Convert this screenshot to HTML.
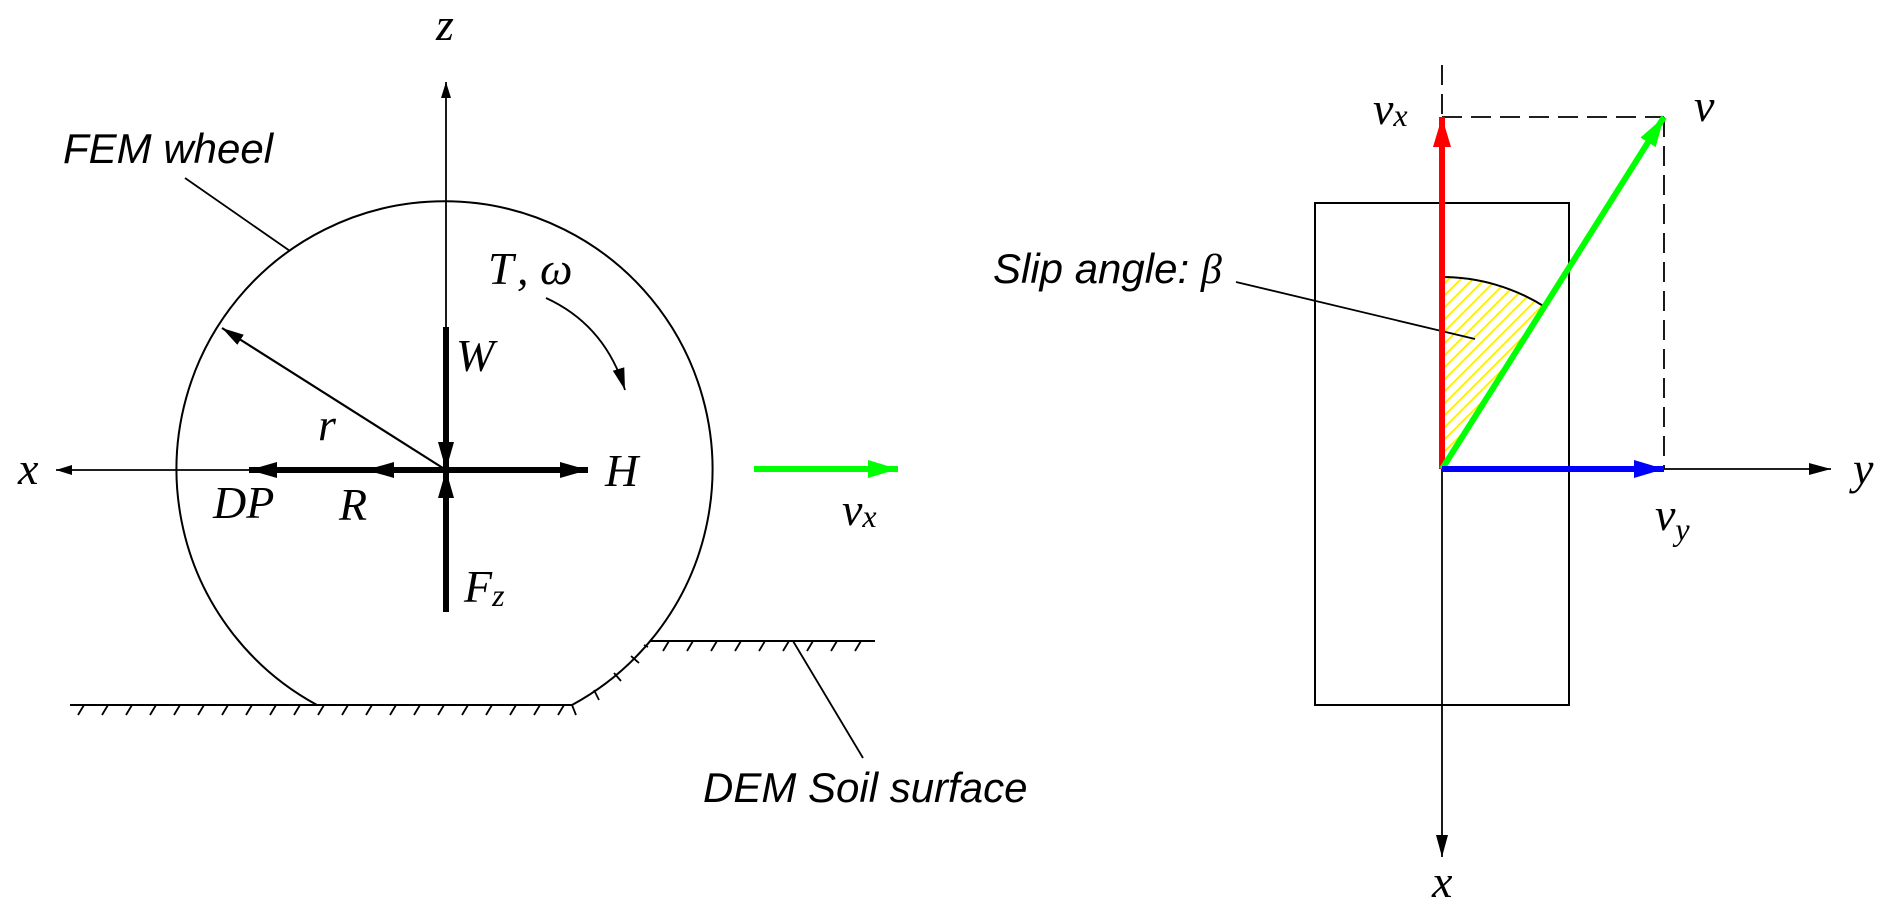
<!DOCTYPE html>
<html><head><meta charset="utf-8"><style>
html,body{margin:0;padding:0;background:#fff;}
svg{display:block;}
.m{font-family:"Liberation Serif",serif;font-style:italic;font-size:46px;fill:#000;}
.s{font-family:"Liberation Sans",sans-serif;font-style:italic;font-size:42px;fill:#000;}
</style></head><body>
<svg width="1892" height="914" viewBox="0 0 1892 914" xmlns="http://www.w3.org/2000/svg">
<defs>
<marker id="a" markerWidth="16" markerHeight="10" refX="16" refY="5" orient="auto" markerUnits="userSpaceOnUse" viewBox="0 0 16 10"><path d="M0,0L16,5L0,10z" fill="#000"/></marker>
<marker id="ab" markerWidth="22" markerHeight="12" refX="22" refY="6" orient="auto" markerUnits="userSpaceOnUse" viewBox="0 0 22 12"><path d="M0,0L22,6L0,12z" fill="#000"/></marker>
<marker id="ak" markerWidth="28" markerHeight="16" refX="28" refY="8" orient="auto" markerUnits="userSpaceOnUse" viewBox="0 0 28 16"><path d="M0,0L28,8L0,16z" fill="#000"/></marker>
<marker id="ag" markerWidth="30" markerHeight="18" refX="30" refY="9" orient="auto" markerUnits="userSpaceOnUse" viewBox="0 0 30 18"><path d="M0,0L30,9L0,18z" fill="#00ff00"/></marker>
<marker id="ar" markerWidth="30" markerHeight="18" refX="30" refY="9" orient="auto" markerUnits="userSpaceOnUse" viewBox="0 0 30 18"><path d="M0,0L30,9L0,18z" fill="#ff0000"/></marker>
<marker id="abl" markerWidth="30" markerHeight="18" refX="30" refY="9" orient="auto" markerUnits="userSpaceOnUse" viewBox="0 0 30 18"><path d="M0,0L30,9L0,18z" fill="#0000ff"/></marker>
<pattern id="h" width="12" height="12" patternUnits="userSpaceOnUse"><path d="M-3,15L15,-3M-3,3L3,-3M9,15L15,9" stroke="#ffee00" stroke-width="1.8"/></pattern>
</defs>
<path d="M317,705A268,268 0 1 1 572,705" fill="none" stroke="#000" stroke-width="2"/>
<line x1="70" y1="705" x2="572" y2="705" stroke="#000" stroke-width="2"/>
<line x1="650" y1="641" x2="875" y2="641" stroke="#000" stroke-width="2"/>
<g stroke="#000" stroke-width="1.8">
<path d="M84,705l-6,10M108,705l-6,10M132,705l-6,10M156,705l-6,10M180,705l-6,10M204,705l-6,10M228,705l-6,10M252,705l-6,10M276,705l-6,10M300,705l-6,10M324,705l-6,10M348,705l-6,10M372,705l-6,10M396,705l-6,10M420,705l-6,10M444,705l-6,10M468,705l-6,10M492,705l-6,10M516,705l-6,10M540,705l-6,10M564,705l-6,10"/>
<path d="M669,641l-6,10M693,641l-6,10M717,641l-6,10M741,641l-6,10M765,641l-6,10M789,641l-6,10M813,641l-6,10M837,641l-6,10M861,641l-6,10"/>
<path d="M572,705l4,10M594,690l5,10M614,673l7,8M631,656l8,7M648,647l-4,-2"/>
</g>
<line x1="185" y1="178" x2="290" y2="251" stroke="#000" stroke-width="1.8"/>
<line x1="863" y1="758" x2="793" y2="641" stroke="#000" stroke-width="1.8"/>
<line x1="446" y1="470" x2="446" y2="82" stroke="#000" stroke-width="1.8" marker-end="url(#a)"/>
<line x1="446" y1="470" x2="56" y2="470" stroke="#000" stroke-width="1.8" marker-end="url(#a)"/>
<line x1="446" y1="470" x2="222" y2="328" stroke="#000" stroke-width="2.2" marker-end="url(#ab)"/>
<line x1="446" y1="470" x2="249" y2="470" stroke="#000" stroke-width="6" marker-end="url(#ak)"/>
<line x1="446" y1="470" x2="366" y2="470" stroke="#000" stroke-width="6" marker-end="url(#ak)"/>
<line x1="446" y1="470" x2="588" y2="470" stroke="#000" stroke-width="6" marker-end="url(#ak)"/>
<line x1="446" y1="327" x2="446" y2="470" stroke="#000" stroke-width="6" marker-end="url(#ak)"/>
<line x1="446" y1="612" x2="446" y2="470" stroke="#000" stroke-width="6" marker-end="url(#ak)"/>
<path d="M546,298Q605,325 625,390" fill="none" stroke="#000" stroke-width="1.8" marker-end="url(#ab)"/>
<line x1="754" y1="469" x2="898" y2="469" stroke="#00ff00" stroke-width="6" marker-end="url(#ag)"/>
<text class="s" x="63" y="163">FEM wheel</text>
<text class="s" x="703" y="802">DEM Soil surface</text>
<text class="m" x="436" y="40">z</text>
<text class="m" x="18" y="484">x</text>
<text class="m" x="488" y="284">T</text>
<text class="m" x="517" y="284">, ω</text>
<text class="m" x="456" y="371">W</text>
<text class="m" x="318" y="440">r</text>
<text class="m" x="213" y="518">DP</text>
<text class="m" x="339" y="520">R</text>
<text class="m" x="605" y="486">H</text>
<text class="m" x="464" y="602">F<tspan font-size="32" dy="4">z</tspan></text>
<text class="m" x="842" y="525">v<tspan font-size="32" dy="2">x</tspan></text>
<rect x="1315" y="203" width="254" height="502" fill="none" stroke="#000" stroke-width="2"/>
<path d="M1442,469L1442,277A192,192 0 0 1 1545,307Z" fill="url(#h)" stroke="none"/>
<path d="M1442,277A192,192 0 0 1 1545,307" fill="none" stroke="#000" stroke-width="2"/>
<line x1="1442" y1="65" x2="1442" y2="117" stroke="#000" stroke-width="1.8" stroke-dasharray="20,9"/>
<line x1="1442" y1="117" x2="1664" y2="117" stroke="#000" stroke-width="1.8" stroke-dasharray="20,9"/>
<line x1="1664" y1="117" x2="1664" y2="469" stroke="#000" stroke-width="1.8" stroke-dasharray="20,9"/>
<line x1="1442" y1="469" x2="1442" y2="857" stroke="#000" stroke-width="1.8" marker-end="url(#ab)"/>
<line x1="1664" y1="469" x2="1831" y2="469" stroke="#000" stroke-width="1.8" marker-end="url(#ab)"/>
<line x1="1475" y1="339" x2="1236" y2="282" stroke="#000" stroke-width="1.8"/>
<line x1="1442" y1="469" x2="1442" y2="117" stroke="#ff0000" stroke-width="6" marker-end="url(#ar)"/>
<line x1="1442" y1="469" x2="1664" y2="117" stroke="#00ff00" stroke-width="6" marker-end="url(#ag)"/>
<line x1="1442" y1="469" x2="1664" y2="469" stroke="#0000ff" stroke-width="6" marker-end="url(#abl)"/>
<text class="s" x="993" y="283">Slip angle: <tspan font-family="Liberation Serif,serif">β</tspan></text>
<text class="m" x="1373" y="124">v<tspan font-size="32" dy="2">x</tspan></text>
<text class="m" x="1694" y="121">v</text>
<text class="m" x="1655" y="530">v<tspan font-size="32" dy="10">y</tspan></text>
<text class="m" x="1853" y="484">y</text>
<text class="m" x="1432" y="897">x</text>
</svg>
</body></html>
